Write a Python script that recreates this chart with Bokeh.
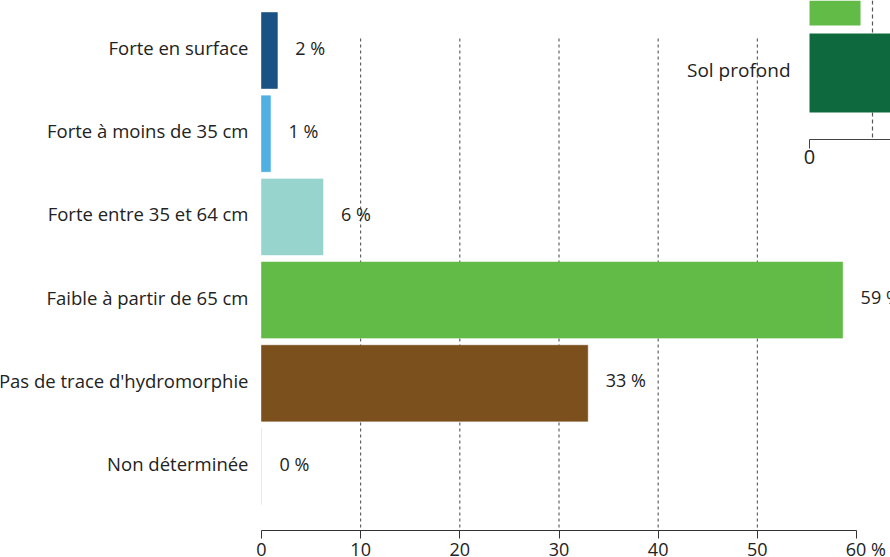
from bokeh.plotting import figure
from bokeh.models import Range1d, LinearAxis, FixedTicker, ColumnDataSource
from bokeh.core.properties import value
from bokeh.embed import file_html
from bokeh.resources import INLINE

# ---------------- data ----------------
categories = ["Forte en surface", "Forte à moins de 35 cm", "Forte entre 35 et 64 cm",
              "Faible à partir de 65 cm", "Pas de trace d'hydromorphie", "Non déterminée"]
shares = [1.6, 0.9, 6.2, 58.6, 32.9, 0.0]
bar_colors = ["#1a5383", "#4fb0e2", "#96d4cd", "#63bb47", "#7b501c", "#e4e4e4"]
x_ticks = [0, 10, 20, 30, 40, 50, 60]
grid_values = [10, 20, 30, 40, 50]

inset_categories = ["", "Sol profond"]
inset_shares = [8.1, 30.0]
inset_colors = ["#63bb47", "#0e6a3e"]
inset_ticks = [0]
inset_grid = [10]

# ---------------- layout anchors (pixels) ----------------
W, H = 890, 557
MAIN_X0, MAIN_K = 261, 595 / 60
MAIN_Y0, MAIN_ROW = 50, 83.2
MAIN_AXIS_PX, GRID_TOP_PX = 530, 38
INSET_X0, INSET_K = 809, 6.3
INSET_Y1, INSET_ROW = 72.5, 87
INSET_AXIS_PX = 139
FONT = "Open Sans"
TXT = "#222222"


def main_y(px):
    return (px - MAIN_Y0) / MAIN_ROW


def inset_y(px):
    return 1 + (px - INSET_Y1) / INSET_ROW


p = figure(width=W, height=H, output_backend="svg", toolbar_location=None,
           x_range=Range1d(-MAIN_X0 / MAIN_K, (W - MAIN_X0) / MAIN_K),
           y_range=Range1d(main_y(H), main_y(0)),
           y_axis_location=None, min_border=0,
           min_border_left=0, min_border_right=0, min_border_top=0, min_border_bottom=0)
p.extra_x_ranges = {"inset": Range1d(-INSET_X0 / INSET_K, (W - INSET_X0) / INSET_K)}
p.extra_y_ranges = {"inset_y": Range1d(inset_y(H), inset_y(0))}
p.outline_line_color = None
p.xgrid.visible = False
p.ygrid.visible = False
p.background_fill_color = "white"
p.border_fill_color = "white"

# main grid lines (dashed)
gsrc = ColumnDataSource(dict(x=grid_values,
                             y0=[main_y(GRID_TOP_PX)] * len(grid_values),
                             y1=[main_y(MAIN_AXIS_PX)] * len(grid_values)))
p.segment(x0="x", x1="x", y0="y0", y1="y1", source=gsrc,
          line_color="#444444", line_width=1, line_dash="3 3")

# inset grid line
igsrc = ColumnDataSource(dict(x=inset_grid,
                              y0=[inset_y(0)] * len(inset_grid),
                              y1=[inset_y(INSET_AXIS_PX)] * len(inset_grid)))
p.segment(x0="x", x1="x", y0="y0", y1="y1", source=igsrc,
          x_range_name="inset", y_range_name="inset_y",
          line_color="#555555", line_width=1.2, line_dash="4 3")

# main bars
src = ColumnDataSource(dict(
    y=list(range(len(categories))), v=shares, c=bar_colors, name=categories,
    lab=[f"{round(s)} %" for s in shares]))
p.hbar(y="y", left=0, right="v", height=76 / MAIN_ROW, source=src,
       fill_color="c", line_color="c", line_width=0.6)

p.text(x=0, y="y", text="name", source=src, x_offset=-13, y_offset=-3,
       text_align="right", text_baseline="middle",
       text_font=value(FONT), text_font_size="18.5px", text_color=TXT)
p.text(x="v", y="y", text="lab", source=src, x_offset=18, y_offset=-3,
       text_align="left", text_baseline="middle",
       text_font=value(FONT), text_font_size="18px", text_color=TXT)

# inset bars
isrc = ColumnDataSource(dict(y=list(range(len(inset_categories))), v=inset_shares,
                             c=inset_colors, name=inset_categories))
p.hbar(y="y", left=0, right="v", height=79 / INSET_ROW, source=isrc,
       x_range_name="inset", y_range_name="inset_y",
       fill_color="c", line_color=None)
p.text(x=0, y="y", text="name", source=isrc, x_offset=-19, y_offset=-3,
       x_range_name="inset", y_range_name="inset_y",
       text_align="right", text_baseline="middle",
       text_font=value(FONT), text_font_size="19px", text_color=TXT)

# main x axis
ax = p.xaxis[0]
ax.fixed_location = main_y(MAIN_AXIS_PX)
ax.ticker = FixedTicker(ticks=x_ticks)
ax.bounds = (x_ticks[0], x_ticks[-1])
ax.major_label_overrides = {x_ticks[-1]: "\u00a0\u00a0\u00a0\u00a0" + str(x_ticks[-1]) + "\u00a0%"}
ax.minor_tick_line_color = None
ax.major_tick_in = 0
ax.major_tick_out = 8
ax.axis_line_color = "#333333"
ax.major_tick_line_color = "#333333"
ax.major_label_standoff = -2
ax.major_label_text_font = FONT
ax.major_label_text_font_size = "18px"
ax.major_label_text_color = TXT

# inset x axis
iax = LinearAxis(x_range_name="inset", fixed_location=main_y(INSET_AXIS_PX),
                 ticker=FixedTicker(ticks=inset_ticks), bounds=(0, 1000))
iax.minor_tick_line_color = None
iax.major_tick_in = 0
iax.major_tick_out = 9
iax.axis_line_color = "#444444"
iax.major_tick_line_color = "#444444"
iax.major_label_standoff = 1
iax.major_label_text_font = FONT
iax.major_label_text_font_size = "20px"
iax.major_label_text_color = TXT
p.add_layout(iax, "below")

open("out.html", "w").write(file_html(p, INLINE))
